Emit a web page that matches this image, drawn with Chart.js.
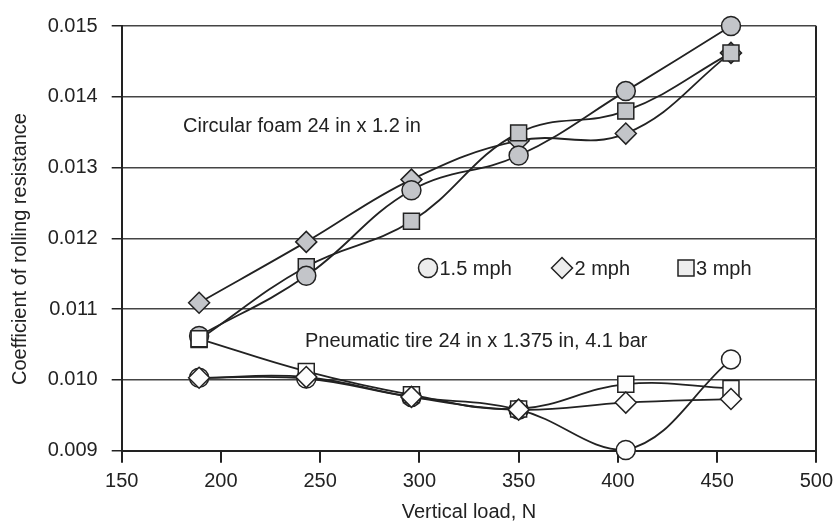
<!DOCTYPE html>
<html>
<head>
<meta charset="utf-8">
<script src="https://cdn.jsdelivr.net/npm/chart.js"></script>
<style>
  body { margin: 0; background: #fff; }
  #wrap { width: 840px; height: 527px; }
</style>
</head>
<body>
<div id="wrap"><canvas id="myChart" width="840" height="527"></canvas></div>
<script>
// vertical load, N
const loads = [189, 243, 296, 350, 404, 457];

// circular foam 24 in x 1.2 in
const foam15 = [0.01062, 0.01147, 0.01268, 0.01317, 0.01408, 0.01500];
const foam2 = [0.01109, 0.01195, 0.01283, 0.01338, 0.01348, 0.01462];
const foam3 = [0.01057, 0.01160, 0.01224, 0.01349, 0.01380, 0.01462];

// pneumatic tire 24 in x 1.375 in, 4.1 bar
const tire15 = [0.01003, 0.01002, 0.00976, 0.00958, 0.00901, 0.01029];
const tire2 = [0.01003, 0.01004, 0.00976, 0.00958, 0.00968, 0.00973];
const tire3 = [0.01058, 0.01012, 0.00979, 0.00959, 0.00994, 0.00988];

const speeds = ['1.5 mph', '2 mph', '3 mph'];
const yTicks = [0.009, 0.010, 0.011, 0.012, 0.013, 0.014, 0.015];

const FONT = '"Liberation Sans", Arial, sans-serif';
const INK = '#222';

const styles = {
  '1.5 mph': { pointStyle: 'circle', r: 9.5 },
  '2 mph': { pointStyle: 'rectRot', r: 10.5 },
  '3 mph': { pointStyle: 'rect', r: 11.3 }
};

function series(label, values, fill) {
  const st = styles[label];
  return {
    label: label,
    data: loads.map((x, i) => ({ x: x, y: values[i] })),
    borderColor: INK,
    borderWidth: 1.8,
    tension: 0.4,
    fill: false,
    clip: false,
    pointStyle: st.pointStyle,
    pointRadius: st.r,
    pointHoverRadius: st.r,
    pointBackgroundColor: fill,
    pointBorderColor: INK,
    pointBorderWidth: 1.5
  };
}

// first dataset is drawn on top
const datasets = [
  series('2 mph', tire2, '#fdfdfd'),
  series('3 mph', tire3, '#fdfdfd'),
  series('1.5 mph', tire15, '#fdfdfd'),
  series('1.5 mph', foam15, '#c3c5c9'),
  series('3 mph', foam3, '#c3c5c9'),
  series('2 mph', foam2, '#c3c5c9')
];

// texts in the plot, the legend and the axis titles
const extras = {
  id: 'extras',
  afterDraw(chart) {
    const c = chart.ctx;
    const area = chart.chartArea;
    c.save();
    c.fillStyle = INK;
    c.font = '20px ' + FONT;
    c.textBaseline = 'middle';
    c.textAlign = 'left';
    c.fillText('Circular foam 24 in x 1.2 in', 183, 126);
    c.fillText('Pneumatic tire 24 in x 1.375 in, 4.1 bar', 305, 341);

    // legend
    const ly = 268;
    const items = [
      { label: '1.5 mph', x: 428 },
      { label: '2 mph', x: 562 },
      { label: '3 mph', x: 686 }
    ];
    items.forEach(it => {
      const st = styles[it.label];
      c.beginPath();
      if (st.pointStyle === 'circle') {
        c.arc(it.x, ly, 9.5, 0, Math.PI * 2);
      } else if (st.pointStyle === 'rectRot') {
        c.moveTo(it.x - 10.5, ly);
        c.lineTo(it.x, ly - 10.5);
        c.lineTo(it.x + 10.5, ly);
        c.lineTo(it.x, ly + 10.5);
        c.closePath();
      } else {
        c.rect(it.x - 8, ly - 8, 16, 16);
      }
      c.fillStyle = '#ededed';
      c.fill();
      c.lineWidth = 1.5;
      c.strokeStyle = INK;
      c.stroke();
      c.fillStyle = INK;
      const r = st.pointStyle === 'rect' ? 8 : (st.pointStyle === 'circle' ? 9.5 : 10.5);
      c.fillText(it.label, it.x + r + 2, ly + 1);
    });

    // axis titles
    c.textAlign = 'center';
    c.fillText('Vertical load, N', (area.left + area.right) / 2, 512);
    c.translate(20, 249);
    c.rotate(-Math.PI / 2);
    c.fillText('Coefficient of rolling resistance', 0, 0);
    c.restore();
  }
};

const productionChart = new Chart(document.getElementById('myChart'), {
  type: 'line',
  data: { datasets: datasets },
  options: {
    responsive: false,
    animation: false,
    events: [],
    layout: { padding: { top: 16, right: 15, left: 0, bottom: 0 } },
    plugins: {
      legend: { display: false },
      tooltip: { enabled: false }
    },
    scales: {
      x: {
        type: 'linear',
        min: 150,
        max: 500,
        afterBuildTicks: axis => {
          axis.ticks = [150, 200, 250, 300, 350, 400, 450, 500].map(v => ({ value: v }));
        },
        afterFit: axis => { axis.height = 76.3; },
        border: { color: INK, width: 2 },
        grid: {
          color: ctx => (ctx.tick && (ctx.tick.value === 150 || ctx.tick.value === 500)) ? INK : 'rgba(0,0,0,0)',
          lineWidth: 2,
          tickColor: INK,
          tickLength: 12
        },
        ticks: {
          color: INK,
          padding: 7,
          maxRotation: 0,
          font: { family: FONT, size: 20 }
        }
      },
      y: {
        min: 0.009,
        max: 0.015,
        afterBuildTicks: axis => {
          axis.ticks = yTicks.map(v => ({ value: v }));
        },
        afterFit: axis => { axis.width = 121.7; },
        border: { color: INK, width: 2 },
        grid: {
          color: '#444',
          lineWidth: 1.5,
          tickColor: INK,
          tickLength: 10
        },
        ticks: {
          color: INK,
          padding: 14,
          font: { family: FONT, size: 20 },
          callback: v => Number(v).toFixed(3)
        }
      }
    }
  },
  plugins: [extras]
});
</script>
</body>
</html>
